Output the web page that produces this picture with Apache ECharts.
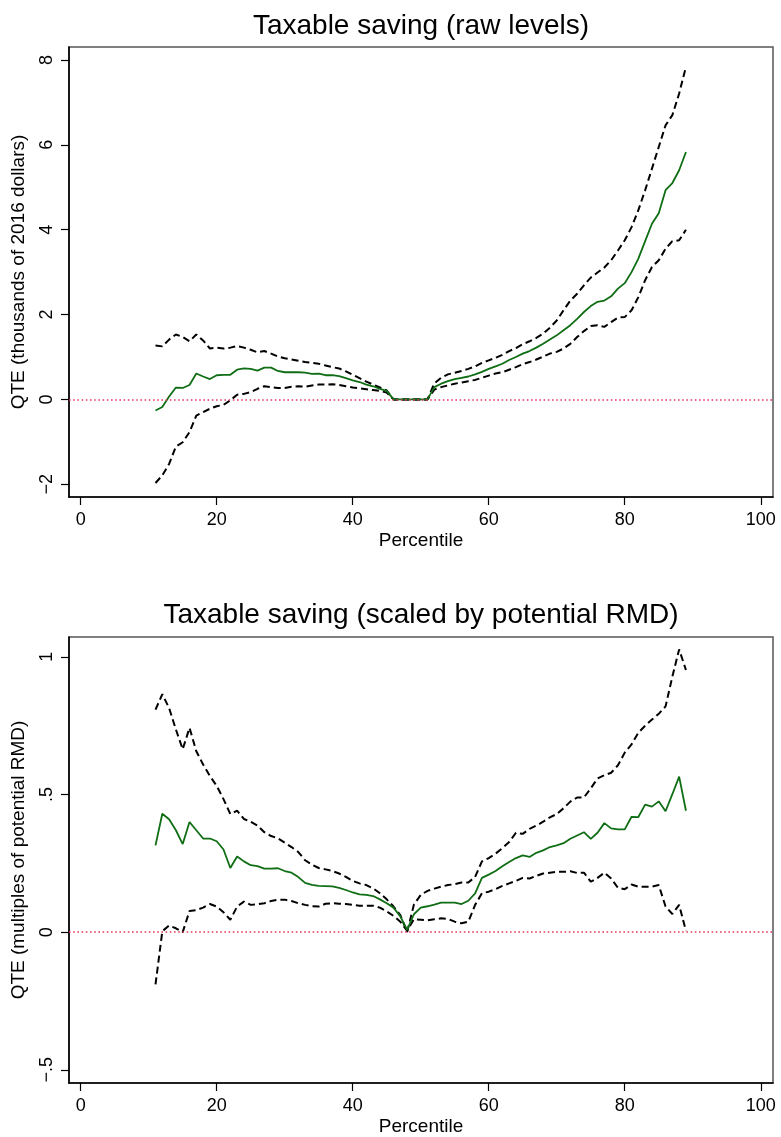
<!DOCTYPE html>
<html>
<head>
<meta charset="utf-8">
<script src="https://cdn.jsdelivr.net/npm/echarts@6/dist/echarts.min.js"></script>
<style>
  html, body { margin: 0; padding: 0; background: #fff; }
  #chart { width: 781px; height: 1137px; }
</style>
</head>
<body>
<div id="chart"></div>
<script>
// Percentiles at which the quantile treatment effects are estimated
const percentiles = [11,12,13,14,15,16,17,18,19,20,21,22,23,24,25,26,27,28,29,30,
  31,32,33,34,35,36,37,38,39,40,41,42,43,44,45,46,47,48,49,50,
  51,52,53,54,55,56,57,58,59,60,61,62,63,64,65,66,67,68,69,70,
  71,72,73,74,75,76,77,78,79,80,81,82,83,84,85,86,87,88,89];

// Panel 1: raw levels (thousands of 2016 dollars)
const rawQte = [-0.26,-0.18,0.07,0.28,0.27,0.34,0.61,0.54,0.48,0.57,0.58,0.58,0.70,0.73,0.72,0.68,0.75,0.75,0.67,0.64,
  0.64,0.64,0.63,0.60,0.61,0.57,0.57,0.55,0.50,0.45,0.41,0.35,0.31,0.25,0.20,0,0,0,0,0,
  0,0.29,0.37,0.43,0.48,0.51,0.54,0.59,0.65,0.72,0.78,0.84,0.93,1.00,1.08,1.14,1.22,1.31,1.41,1.51,
  1.63,1.75,1.90,2.06,2.20,2.30,2.33,2.43,2.61,2.74,3.00,3.32,3.73,4.14,4.39,4.93,5.10,5.40,5.83];
const rawUpper = [1.27,1.25,1.41,1.53,1.47,1.37,1.53,1.39,1.20,1.22,1.20,1.22,1.26,1.22,1.17,1.11,1.14,1.08,1.01,0.97,
  0.94,0.91,0.88,0.86,0.84,0.80,0.76,0.73,0.66,0.58,0.50,0.42,0.35,0.28,0.21,0,0,0,0,0,
  0,0.38,0.51,0.59,0.63,0.67,0.72,0.78,0.86,0.92,0.98,1.05,1.14,1.21,1.30,1.37,1.45,1.55,1.69,1.86,
  2.10,2.33,2.49,2.69,2.87,2.99,3.11,3.28,3.51,3.75,4.06,4.46,4.93,5.44,5.95,6.46,6.70,7.21,7.84];
const rawLower = [-1.97,-1.79,-1.52,-1.11,-1.01,-0.77,-0.38,-0.30,-0.22,-0.16,-0.13,-0.02,0.11,0.13,0.17,0.25,0.31,0.29,0.27,0.27,
  0.30,0.31,0.30,0.33,0.35,0.35,0.36,0.34,0.31,0.28,0.26,0.24,0.22,0.20,0.16,0,0,0,0,0,
  0,0.23,0.29,0.33,0.37,0.40,0.43,0.46,0.51,0.56,0.61,0.64,0.70,0.76,0.83,0.88,0.94,1.01,1.08,1.12,
  1.20,1.31,1.47,1.61,1.73,1.75,1.71,1.82,1.93,1.94,2.10,2.41,2.81,3.12,3.28,3.55,3.73,3.75,4.00];

// Panel 2: scaled by potential RMD
const rmdQte = [0.315,0.43,0.41,0.37,0.32,0.40,0.37,0.34,0.34,0.33,0.30,0.233,0.275,0.257,0.243,0.24,0.231,0.231,0.232,0.222,
  0.216,0.20,0.179,0.172,0.168,0.167,0.166,0.161,0.153,0.144,0.137,0.135,0.131,0.119,0.105,0.089,0.057,0.008,0.065,0.089,
  0.094,0.100,0.107,0.107,0.107,0.102,0.114,0.141,0.197,0.209,0.222,0.239,0.255,0.269,0.279,0.273,0.288,0.297,0.309,0.315,
  0.323,0.339,0.351,0.363,0.339,0.361,0.396,0.377,0.373,0.373,0.419,0.418,0.463,0.456,0.475,0.439,0.501,0.565,0.441];
const rmdUpper = [0.808,0.864,0.814,0.736,0.664,0.742,0.657,0.609,0.567,0.531,0.483,0.429,0.441,0.411,0.401,0.387,0.363,0.349,0.341,0.325,
  0.309,0.291,0.261,0.245,0.233,0.228,0.222,0.213,0.201,0.186,0.177,0.171,0.159,0.141,0.119,0.093,0.062,0.0,0.100,0.135,
  0.150,0.158,0.165,0.171,0.174,0.180,0.180,0.201,0.257,0.269,0.285,0.305,0.327,0.361,0.357,0.375,0.387,0.401,0.417,0.429,
  0.450,0.474,0.489,0.489,0.522,0.558,0.570,0.579,0.606,0.652,0.682,0.724,0.750,0.772,0.793,0.820,0.928,1.027,0.952];
const rmdLower = [-0.19,0.003,0.024,0.014,0.0,0.077,0.080,0.089,0.102,0.093,0.072,0.045,0.093,0.111,0.099,0.101,0.105,0.113,0.118,0.118,
  0.113,0.105,0.099,0.094,0.093,0.103,0.105,0.103,0.102,0.099,0.096,0.096,0.096,0.089,0.075,0.059,0.038,0.005,0.047,0.045,
  0.043,0.047,0.050,0.048,0.038,0.032,0.038,0.099,0.141,0.147,0.156,0.168,0.177,0.186,0.197,0.195,0.204,0.213,0.216,0.219,
  0.219,0.221,0.215,0.216,0.183,0.197,0.216,0.195,0.161,0.156,0.173,0.165,0.165,0.165,0.171,0.093,0.066,0.099,0.004];

// Axis ticks
const xTicks = [0, 20, 40, 60, 80, 100];
const rawTicks = [-2, 0, 2, 4, 6, 8];
const rmdTicks = [-0.5, 0, 0.5, 1];

const FONT = "'Liberation Sans', Arial, Helvetica, sans-serif";
const GREEN = '#0f6e14';

const pairs = (ys) => percentiles.map((p, i) => [p, ys[i]]);
const minusSign = (s) => s.replace('-', '\u2212');

function stataNum(v) {
  // Stata-style labels: drop the leading zero of fractions
  let s = String(v);
  s = s.replace(/^0\./, '.').replace(/^-0\./, '-.');
  return minusSign(s);
}

function xAxisFor(gridIndex) {
  return {
    type: 'value', gridIndex, min: -1.72, max: 101.8,
    name: 'Percentile', nameLocation: 'middle', nameGap: 34,
    nameTextStyle: { fontFamily: FONT, fontSize: 19, color: '#000' },
    axisLine: { show: true, onZero: false, lineStyle: { color: '#000', width: 1.6 } },
    axisTick: { show: true, length: 8, customValues: xTicks, lineStyle: { color: '#000', width: 1.2 } },
    axisLabel: { customValues: xTicks, margin: 14, fontFamily: FONT, fontSize: 18, color: '#000' },
    splitLine: { show: false }
  };
}

function yAxisFor(gridIndex, min, max, ticks, name) {
  return {
    type: 'value', gridIndex, min, max,
    name, nameLocation: 'middle', nameGap: 41, nameRotate: 90,
    nameTextStyle: { fontFamily: FONT, fontSize: 19, color: '#000' },
    axisLine: { show: true, onZero: false, lineStyle: { color: '#000', width: 1.6 } },
    axisTick: { show: true, length: 8, customValues: ticks, lineStyle: { color: '#000', width: 1.2 } },
    axisLabel: { customValues: ticks, rotate: 90, margin: 13, fontFamily: FONT, fontSize: 18, color: '#000',
      formatter: (v) => stataNum(v) },
    splitLine: { show: false }
  };
}

function zeroLine(idx) {
  return {
    type: 'line', xAxisIndex: idx, yAxisIndex: idx, data: [], silent: true, z: 1,
    markLine: {
      silent: true, symbol: 'none', label: { show: false },
      lineStyle: { color: '#e8365f', width: 1.6, type: [1.6, 2.6], opacity: 1 },
      emphasis: { disabled: true },
      data: [{ yAxis: 0 }]
    }
  };
}

function ciLine(idx, ys) {
  return {
    type: 'line', xAxisIndex: idx, yAxisIndex: idx, data: pairs(ys),
    showSymbol: false, z: 3,
    lineStyle: { color: '#000', width: 2, type: [7, 4] }
  };
}

function qteLine(idx, ys) {
  return {
    type: 'line', xAxisIndex: idx, yAxisIndex: idx, data: pairs(ys),
    showSymbol: false, z: 4,
    lineStyle: { color: GREEN, width: 1.8 }
  };
}

const chart = echarts.init(document.getElementById('chart'), null, { renderer: 'canvas' });
chart.setOption({
  animation: false,
  backgroundColor: '#fff',
  title: [
    { text: 'Taxable saving (raw levels)', left: 421, top: 12, textAlign: 'center', padding: 0,
      textStyle: { fontFamily: FONT, fontSize: 28, fontWeight: 'normal', color: '#000' } },
    { text: 'Taxable saving (scaled by potential RMD)', left: 421, top: 601, textAlign: 'center', padding: 0,
      textStyle: { fontFamily: FONT, fontSize: 28, fontWeight: 'normal', color: '#000' } }
  ],
  grid: [
    { left: 69, top: 47, width: 704, height: 450, show: true, borderColor: '#555', borderWidth: 1.5 },
    { left: 69, top: 637, width: 704, height: 449.5, show: true, borderColor: '#555', borderWidth: 1.5 }
  ],
  xAxis: [xAxisFor(0), xAxisFor(1)],
  yAxis: [
    yAxisFor(0, -2.30, 8.306, rawTicks, 'QTE (thousands of 2016 dollars)'),
    yAxisFor(1, -0.548, 1.072, rmdTicks, 'QTE (multiples of potential RMD)')
  ],
  series: [
    zeroLine(0), ciLine(0, rawUpper), ciLine(0, rawLower), qteLine(0, rawQte),
    zeroLine(1), ciLine(1, rmdUpper), ciLine(1, rmdLower), qteLine(1, rmdQte)
  ]
});
</script>
</body>
</html>
